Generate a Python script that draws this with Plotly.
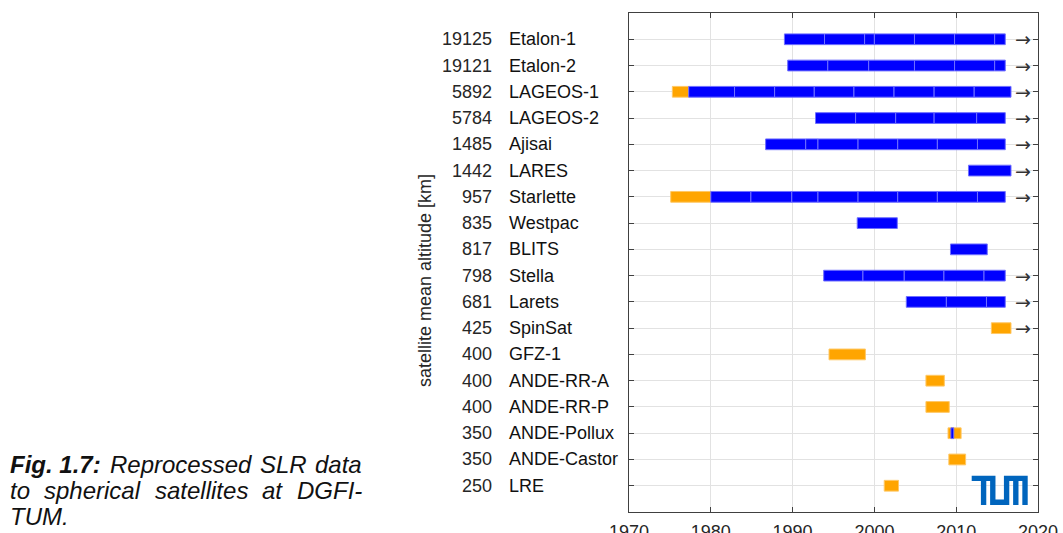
import plotly.graph_objects as go

# ---------------- data ----------------
names = ["Etalon-1", "Etalon-2", "LAGEOS-1", "LAGEOS-2", "Ajisai", "LARES",
         "Starlette", "Westpac", "BLITS", "Stella", "Larets", "SpinSat",
         "GFZ-1", "ANDE-RR-A", "ANDE-RR-P", "ANDE-Pollux", "ANDE-Castor", "LRE"]
altitudes = [19125, 19121, 5892, 5784, 1485, 1442, 957, 835, 817, 798, 681,
             425, 400, 400, 400, 350, 350, 250]
ongoing = [1, 1, 1, 1, 1, 1, 1, 0, 0, 1, 1, 1, 0, 0, 0, 0, 0, 0]

# blue (SLR data) segment boundaries per satellite, in years
blue_breaks = {
    "Etalon-1": [1989.0, 1993.9, 1998.8, 2000.0, 2004.9, 2009.8, 2014.7, 2016.0],
    "Etalon-2": [1989.4, 1994.3, 1999.3, 2004.9, 2009.8, 2014.7, 2016.0],
    "LAGEOS-1": [1977.3, 1982.9, 1987.8, 1992.65, 1997.5, 2002.4, 2007.3, 2012.2, 2016.7],
    "LAGEOS-2": [1992.8, 1997.7, 2002.6, 2007.3, 2012.5, 2016.0],
    "Ajisai": [1986.7, 1991.6, 1993.1, 1998.0, 2002.85, 2007.7, 2012.6, 2016.0],
    "LARES": [2011.5, 2016.7],
    "Starlette": [1980.0, 1984.9, 1989.9, 1993.1, 1998.0, 2002.85, 2007.7, 2012.6, 2016.0],
    "Westpac": [1997.9, 2002.8],
    "BLITS": [2009.3, 2013.8],
    "Stella": [1993.8, 1998.6, 2003.65, 2008.5, 2013.4, 2016.0],
    "Larets": [2003.9, 2008.8, 2013.7, 2016.0],
    "ANDE-Pollux": [2009.35, 2009.7],
}
# orange intervals (start, end) per satellite, in years
orange_spans = {
    "LAGEOS-1": (1975.3, 1977.3),
    "Starlette": (1975.1, 1980.0),
    "SpinSat": (2014.3, 2016.7),
    "GFZ-1": (1994.45, 1998.9),
    "ANDE-RR-A": (2006.3, 2008.55),
    "ANDE-RR-P": (2006.3, 2009.15),
    "ANDE-Pollux": (2009.0, 2010.6),
    "ANDE-Castor": (2009.1, 2011.15),
    "LRE": (2001.2, 2002.95),
}
x_ticks = [1970, 1980, 1990, 2000, 2010, 2020]

# ---------------- layout geometry ----------------
W, H = 1063, 533
ML, MR, MT, MB = 629, 25, 13, 21
PW, PH = W - ML - MR, H - MT - MB


def px(xp):
    return (xp - ML) / PW


def py(yp):
    return (H - MB - yp) / PH


rows = {n: i + 1 for i, n in enumerate(names)}
BAR_W = 0.41
FONT = "Liberation Sans, Arial, Helvetica, sans-serif"
TXT = "#262626"

fig = go.Figure()

# orange bars
ob_y, ob_base, ob_len = [], [], []
for n, (s, e) in orange_spans.items():
    ob_y.append(rows[n]); ob_base.append(s); ob_len.append(e - s)
fig.add_trace(go.Bar(orientation="h", y=ob_y, x=ob_len, base=ob_base,
                     width=BAR_W, marker=dict(color="#ffa500",
                                              line=dict(color="#ffc866", width=1)),
                     showlegend=False, hoverinfo="skip"))

# blue bars (segmented)
bb_y, bb_base, bb_len = [], [], []
for n, br in blue_breaks.items():
    for a, b in zip(br[:-1], br[1:]):
        bb_y.append(rows[n]); bb_base.append(a); bb_len.append(b - a)
fig.add_trace(go.Bar(orientation="h", y=bb_y, x=bb_len, base=bb_base,
                     width=BAR_W, marker=dict(color="#0000ff",
                                              line=dict(color="#7070ff", width=1)),
                     showlegend=False, hoverinfo="skip"))

annotations = []
# y labels: altitude numbers and names
for n, alt in zip(names, altitudes):
    r = rows[n]
    annotations.append(dict(xref="paper", yref="y", x=px(492), y=r, text=str(alt),
                            xanchor="right", yanchor="middle", showarrow=False,
                            borderpad=0, borderwidth=0,
                            font=dict(family=FONT, size=18, color=TXT)))
    annotations.append(dict(xref="paper", yref="y", x=px(509), y=r, text=n,
                            xanchor="left", yanchor="middle", showarrow=False,
                            borderpad=0, borderwidth=0,
                            font=dict(family=FONT, size=18, color="#111111")))
# arrows for ongoing missions
for n, og in zip(names, ongoing):
    if og:
        annotations.append(dict(xref="x", yref="y", x=2018.15, y=rows[n], text="→",
                                xanchor="center", yanchor="middle", showarrow=False,
                                borderpad=0, borderwidth=0,
                                font=dict(family="DejaVu Sans", size=19, color="#333333")))
# y-axis title
annotations.append(dict(xref="paper", yref="paper", x=px(425), y=py(281),
                        text="satellite mean altitude [km]", textangle=-90,
                        xanchor="center", yanchor="middle", showarrow=False,
                        font=dict(family=FONT, size=18, color=TXT)))

# caption (justified: words placed on a 10..362 px column)
cap_font = dict(family=FONT, size=24, color="#111111")
cap_words = [
    (10, 464, "<b><i>Fig. 1.7:</i></b>"),
    (109.5, 464, "<i>Reprocessed</i>"),
    (259.7, 464, "<i>SLR</i>"),
    (315.2, 464, "<i>data</i>"),
    (10, 490, "<i>to</i>"),
    (44.3, 490, "<i>spherical</i>"),
    (154.6, 490, "<i>satellites</i>"),
    (262.3, 490, "<i>at</i>"),
    (296.6, 490, "<i>DGFI-</i>"),
    (10, 516, "<i>TUM.</i>"),
]
for xw, yw, t in cap_words:
    annotations.append(dict(xref="paper", yref="paper", x=px(xw), y=py(yw), text=t,
                            xanchor="left", yanchor="middle", showarrow=False,
                            borderpad=0, borderwidth=0, font=cap_font))

# TUM logo (path in logo units, 73 x 38)
logo_pts = [(0, 0), (31, 0), (31, 31), (42, 31), (42, 0), (73, 0), (73, 38),
            (66, 38), (66, 7), (61, 7), (61, 38), (54, 38), (54, 7), (49, 7),
            (49, 38), (24, 38), (24, 7), (19, 7), (19, 38), (12, 38), (12, 7), (0, 7)]
LX0, LY0, LW, LH = 971.7, 475.7, 56.0, 29.3
path = ""
for i, (u, v) in enumerate(logo_pts):
    xx = px(LX0 + u * LW / 73)
    yy = py(LY0 + v * LH / 38)
    path += ("M" if i == 0 else "L") + f"{xx:.5f},{yy:.5f} "
path += "Z"
shapes = [dict(type="path", xref="paper", yref="paper", path=path,
               fillcolor="#0065bd", line=dict(width=0))]

fig.update_layout(
    width=W, height=H,
    margin=dict(l=ML, r=MR, t=MT, b=MB, pad=0, autoexpand=False),
    paper_bgcolor="white", plot_bgcolor="white",
    barmode="overlay", showlegend=False,
    font=dict(family=FONT, size=18, color=TXT),
    annotations=annotations, shapes=shapes,
    xaxis=dict(range=[1970, 2020], tickvals=x_ticks, ticks="inside", ticklen=5,
               tickcolor="#404040", showline=True, linecolor="#404040", linewidth=1,
               mirror="ticks", showgrid=True, gridcolor="#e2e2e2", gridwidth=1,
               zeroline=False, automargin=False, ticklabelstandoff=3,
               tickfont=dict(family=FONT, size=18, color=TXT)),
    yaxis=dict(range=[19, 0], tickvals=list(range(1, 19)), ticks="inside", ticklen=5,
               tickcolor="#404040", showline=True, linecolor="#404040", linewidth=1,
               mirror="ticks", showgrid=True, gridcolor="#e2e2e2", gridwidth=1,
               zeroline=False, showticklabels=False, automargin=False),
)

fig.write_html("out.html", config={"displayModeBar": False},
               post_script="document.body.style.margin='0';document.body.style.overflow='hidden';")
